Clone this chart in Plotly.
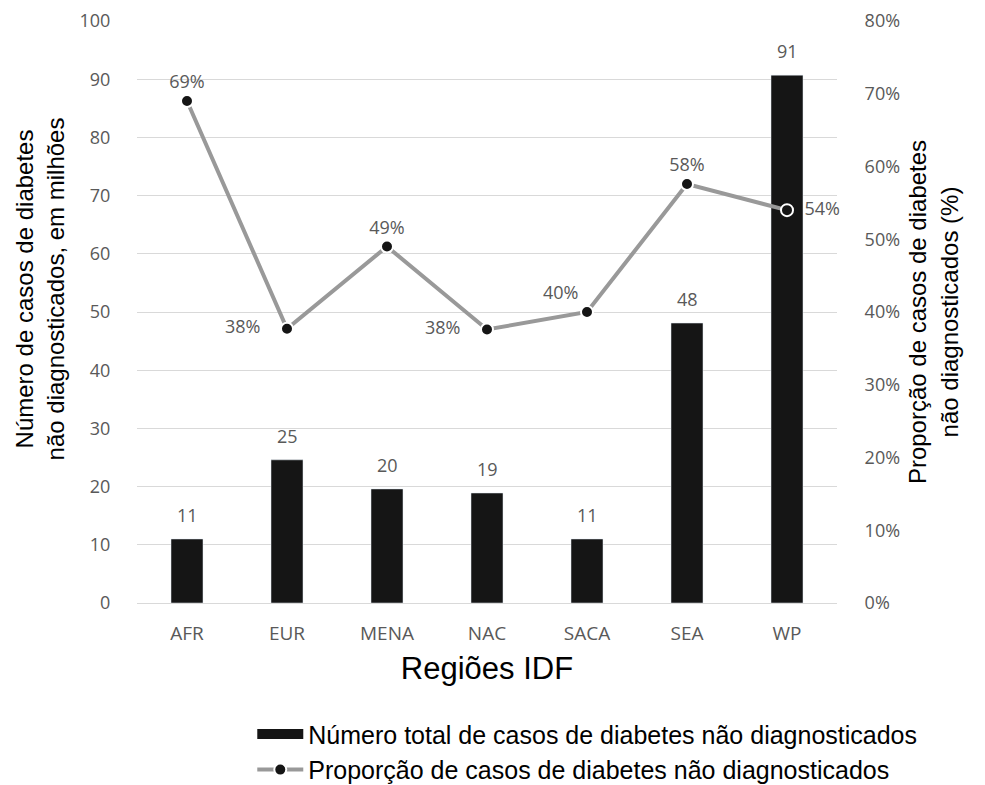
import plotly.graph_objects as go

regions = ["AFR", "EUR", "MENA", "NAC", "SACA", "SEA", "WP"]
casos = [11, 24.6, 19.6, 18.9, 11, 48.1, 90.7]
casos_labels = ["11", "25", "20", "19", "11", "48", "91"]
proporcao = [0.69, 0.377, 0.49, 0.376, 0.40, 0.576, 0.54]
prop_labels = ["69%", "38%\u2002\u2002", "49%", "38%\u2002\u2002", "40%", "58%", "\u200254%"]
label_pos = ["top center", "middle left", "top center", "middle left", "top left", "top center", "middle right"]

name_bar = "Número total de casos de diabetes não diagnosticados"
name_line = "Proporção de casos de diabetes não diagnosticados"
title_left = "Número de casos de diabetes<br>não diagnosticados, em milhões"
title_right = "Proporção de casos de diabetes<br>não diagnosticados (%)"
title_x = "Regiões IDF"

gray_txt = "#595959"
lbl_font = dict(family="Open Sans", size=18, color=gray_txt)

fig = go.Figure()
fig.add_trace(go.Bar(
    x=regions, y=casos, name=name_bar, showlegend=False,
    marker=dict(color="#151515"), width=0.32,
))
# legend proxy for bar series (wide rectangle symbol)
fig.add_trace(go.Scatter(
    x=[None], y=[None], mode="lines", name=name_bar,
    line=dict(color="#151515", width=13), showlegend=True,
))
fig.add_trace(go.Scatter(
    x=regions, y=proporcao, yaxis="y2", mode="lines+markers+text",
    name=name_line,
    line=dict(color="#999999", width=4),
    marker=dict(size=12, color="#151515", line=dict(color="white", width=2)),
    text=prop_labels, textposition=label_pos,
    textfont=lbl_font, cliponaxis=False,
))

annotations = [
    dict(x=r, y=v, xref="x", yref="y", text=t, showarrow=False,
         yanchor="middle", yshift=24, font=lbl_font)
    for r, v, t in zip(regions, casos, casos_labels)
]
annotations.append(dict(
    x=-0.139, y=0.54, xref="paper", yref="paper", text=title_left,
    showarrow=False, textangle=-90, xanchor="center", yanchor="middle",
    font=dict(family="Liberation Sans", size=24, color="black"),
))

fig.update_layout(
    width=985, height=785,
    margin=dict(l=129, r=156, t=13, b=190, autoexpand=False),
    plot_bgcolor="white", paper_bgcolor="white",
    showlegend=True,
    annotations=annotations,
    legend=dict(xref="container", yref="container", x=0.248, y=0.104,
                xanchor="left", yanchor="top",
                font=dict(family="Liberation Sans", size=25, color="black"),
                tracegroupgap=0, itemwidth=46, bgcolor="rgba(0,0,0,0)"),
    xaxis=dict(
        tickfont=dict(family="Open Sans", size=19, color=gray_txt),
        ticks="outside", ticklen=13, tickcolor="rgba(0,0,0,0)",
        showline=True, linecolor="#d9d9d9", linewidth=1,
        title=dict(text=title_x, font=dict(family="Liberation Sans", size=31, color="black"), standoff=12),
    ),
    yaxis=dict(
        range=[0, 100], dtick=10,
        tickfont=dict(family="Open Sans", size=18, color=gray_txt),
        showgrid=True, gridcolor="#d9d9d9", gridwidth=1,
        ticks="outside", ticklen=22, tickcolor="rgba(0,0,0,0)",
        zeroline=False, ticklabeloverflow="allow",
    ),
    yaxis2=dict(
        range=[0, 0.8], dtick=0.1, tickformat=".0%", overlaying="y", side="right",
        tickfont=dict(family="Open Sans", size=18, color=gray_txt),
        showgrid=False, zeroline=False, ticklabeloverflow="allow",
        ticks="outside", ticklen=23, tickcolor="rgba(0,0,0,0)",
        title=dict(text=title_right,
                   font=dict(family="Liberation Sans", size=24, color="black"), standoff=10),
    ),
)

fig.write_html("out.html")
